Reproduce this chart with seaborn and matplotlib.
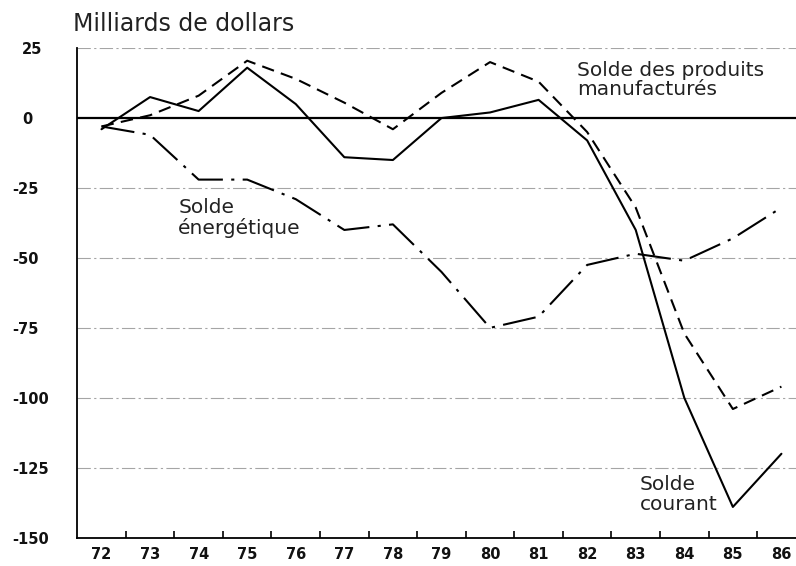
import pandas as pd
import seaborn as sns
import matplotlib.pyplot as plt
from matplotlib.transforms import ScaledTranslation
import numpy as np

# years 1972-1986
years = list(range(72, 87))
courant = [-4, 7.5, 2.5, 18, 5, -14, -15, 0, 2, 6.5, -8, -40, -100, -139, -120]
manufactures = [-3, 1, 8, 20.5, 14, 5.5, -4, 9, 20, 13, -5, -32, -77, -104, -96]
energetique = [-3, -6, -22, -22, -29, -40, -38, -55, -75, -71, -52.5, -48.5, -51, -43, -32]
y_ticks = [25, 0, -25, -50, -75, -100, -125, -150]

sns.set_theme(style="white")
plt.rcParams['font.family'] = ['DejaVu Sans']

df = pd.DataFrame({
    'annee': years * 3,
    'valeur': courant + manufactures + energetique,
    'serie': ['courant'] * 15 + ['manuf'] * 15 + ['energie'] * 15,
})

fig, ax = plt.subplots(figsize=(7.96, 5.66), dpi=100)
fig.subplots_adjust(left=0.097, right=1.0, top=0.915, bottom=0.05)

# grid lines first (behind)
for v in y_ticks:
    if v == 0:
        ax.axhline(v, color='black', lw=1.6, zorder=1)
    elif v != -150:
        ax.axhline(v, color='#a5a5a5', lw=0.8, ls=(0, (12, 3, 2, 3)), zorder=1)

sns.lineplot(data=df, x='annee', y='valeur', style='serie',
             dashes={'courant': '', 'manuf': (6, 3.5), 'energie': (16, 4, 1.5, 4)},
             color='black', lw=1.5, legend=False, ax=ax, zorder=3)

ax.set_xlim(71.5, 86.3)
ax.set_ylim(-150, 25)
ax.set_xlabel('')
ax.set_ylabel('')

ax.set_yticks(y_ticks)
ax.set_yticklabels([str(v) for v in y_ticks], fontweight='bold', fontsize=10.5, color='#111')
ax.tick_params(axis='y', length=0, pad=47)
for lab in ax.get_yticklabels():
    lab.set_ha('left')
    if not lab.get_text().startswith('-'):
        lab.set_transform(lab.get_transform() + ScaledTranslation(7.5 / 72, 0, fig.dpi_scale_trans))

ax.set_xticks(years)
ax.set_xticklabels([str(y) for y in years], fontweight='bold', fontsize=10.5, color='#111')
ax.set_xticks(np.arange(72.5, 86, 1), minor=True)
ax.tick_params(axis='x', which='major', length=0, pad=7)
ax.tick_params(axis='x', which='minor', direction='in', length=5, width=1.2, color='black', bottom=True)

for side in ['top', 'right']:
    ax.spines[side].set_visible(False)
for side in ['left', 'bottom']:
    ax.spines[side].set_color('black')
    ax.spines[side].set_linewidth(1.3)

txt = dict(fontsize=14.5, color='#222', linespacing=1.05, va='top', ha='left')
fig.text(0.092, 0.978, 'Milliards de dollars', fontsize=17, color='#222', va='top', ha='left')
ax.text(81.79, 20.5, 'Solde des produits\nmanufacturés', **txt)
ax.text(73.58, -28.5, 'Solde\nénergétique', **txt)
ax.text(83.09, -127.5, 'Solde\ncourant', **txt)

fig.savefig('out.png', dpi=100)
